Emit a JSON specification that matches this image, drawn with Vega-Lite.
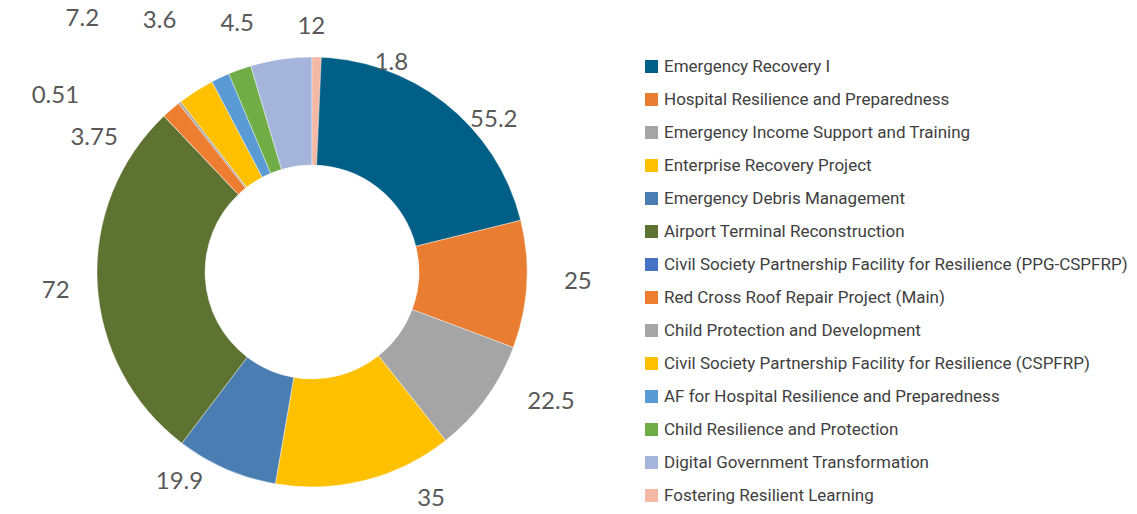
{
  "$schema": "https://vega.github.io/schema/vega-lite/v6.json",
  "width": 624,
  "height": 484,
  "padding": {"left": 0, "top": 30, "right": 513, "bottom": 0},
  "autosize": {"type": "none"},
  "background": "white",
  "config": {"view": {"stroke": null}},
  "data": {
    "values": [
      {"order": 1, "name": "Emergency Recovery I", "value": 55.2},
      {"order": 2, "name": "Hospital Resilience and Preparedness", "value": 25},
      {"order": 3, "name": "Emergency Income Support and Training", "value": 22.5},
      {"order": 4, "name": "Enterprise Recovery Project", "value": 35},
      {"order": 5, "name": "Emergency Debris Management", "value": 19.9},
      {"order": 6, "name": "Airport Terminal Reconstruction", "value": 72},
      {"order": 7, "name": "Civil Society Partnership Facility for Resilience (PPG-CSPFRP)", "value": 0},
      {"order": 8, "name": "Red Cross Roof Repair Project (Main)", "value": 3.75},
      {"order": 9, "name": "Child Protection and Development", "value": 0.51},
      {"order": 10, "name": "Civil Society Partnership Facility for Resilience (CSPFRP)", "value": 7.2},
      {"order": 11, "name": "AF for Hospital Resilience and Preparedness", "value": 3.6},
      {"order": 12, "name": "Child Resilience and Protection", "value": 4.5},
      {"order": 13, "name": "Digital Government Transformation", "value": 12},
      {"order": 14, "name": "Fostering Resilient Learning", "value": 1.8}
    ]
  },
  "transform": [
    {"stack": "value", "groupby": [], "sort": [{"field": "order", "order": "ascending"}], "as": ["v0", "v1"]}
  ],
  "encoding": {
    "theta": {"field": "v0", "type": "quantitative", "scale": {"nice": false, "zero": true}}
  },
  "layer": [
    {
      "mark": {"type": "arc", "outerRadius": 215, "innerRadius": 107, "stroke": "#ffffff", "strokeWidth": 0.4},
      "encoding": {
        "theta2": {"field": "v1"},
        "color": {
          "field": "name",
          "type": "nominal",
          "scale": {
            "domain": [
              "Emergency Recovery I",
              "Hospital Resilience and Preparedness",
              "Emergency Income Support and Training",
              "Enterprise Recovery Project",
              "Emergency Debris Management",
              "Airport Terminal Reconstruction",
              "Civil Society Partnership Facility for Resilience (PPG-CSPFRP)",
              "Red Cross Roof Repair Project (Main)",
              "Child Protection and Development",
              "Civil Society Partnership Facility for Resilience (CSPFRP)",
              "AF for Hospital Resilience and Preparedness",
              "Child Resilience and Protection",
              "Digital Government Transformation",
              "Fostering Resilient Learning"
            ],
            "range": ["#005F86", "#E97E32", "#A5A5A5", "#FFC000", "#4A7EB3", "#5E7232", "#4472C4", "#ED7D31", "#A4A5A4", "#FFC000", "#5B9BD5", "#70AD47", "#A5B4DB", "#F4B9A4"]
          },
          "legend": {
            "orient": "none",
            "legendX": 643,
            "legendY": 28,
            "title": null,
            "symbolType": "square",
            "symbolSize": 169,
            "symbolStrokeWidth": 0,
            "symbolOpacity": 1,
            "labelFont": "Roboto",
            "labelFontSize": 17,
            "labelColor": "#404040",
            "labelOffset": 4,
            "labelLimit": 700,
            "rowPadding": 15
          }
        }
      }
    },
    {"transform": [{"filter": "datum.order == 1"}], "mark": {"type": "text", "radius": 237, "thetaOffset": 0.8744, "font": "Lato", "fontSize": 24, "color": "#595959", "align": "center", "baseline": "middle"}, "encoding": {"text": {"field": "value", "type": "nominal"}}},
    {"transform": [{"filter": "datum.order == 2"}], "mark": {"type": "text", "radius": 266, "thetaOffset": 0.2815, "font": "Lato", "fontSize": 24, "color": "#595959", "align": "center", "baseline": "middle"}, "encoding": {"text": {"field": "value", "type": "nominal"}}},
    {"transform": [{"filter": "datum.order == 3"}], "mark": {"type": "text", "radius": 272, "thetaOffset": 0.1396, "font": "Lato", "fontSize": 24, "color": "#595959", "align": "center", "baseline": "middle"}, "encoding": {"text": {"field": "value", "type": "nominal"}}},
    {"transform": [{"filter": "datum.order == 4"}], "mark": {"type": "text", "radius": 256, "thetaOffset": 0.1868, "font": "Lato", "fontSize": 24, "color": "#595959", "align": "center", "baseline": "middle"}, "encoding": {"text": {"field": "value", "type": "nominal"}}},
    {"transform": [{"filter": "datum.order == 5"}], "mark": {"type": "text", "radius": 248, "thetaOffset": 0.3924, "font": "Lato", "fontSize": 24, "color": "#595959", "align": "center", "baseline": "middle"}, "encoding": {"text": {"field": "value", "type": "nominal"}}},
    {"transform": [{"filter": "datum.order == 6"}], "mark": {"type": "text", "radius": 257, "thetaOffset": 0.8454, "font": "Lato", "fontSize": 24, "color": "#595959", "align": "center", "baseline": "middle"}, "encoding": {"text": {"field": "value", "type": "nominal"}}},
    {"transform": [{"filter": "datum.order == 8"}], "mark": {"type": "text", "radius": 256, "thetaOffset": -0.2588, "font": "Lato", "fontSize": 24, "color": "#595959", "align": "center", "baseline": "middle"}, "encoding": {"text": {"field": "value", "type": "nominal"}}},
    {"transform": [{"filter": "datum.order == 9"}], "mark": {"type": "text", "radius": 311, "thetaOffset": -0.3012, "font": "Lato", "fontSize": 24, "color": "#595959", "align": "center", "baseline": "middle"}, "encoding": {"text": {"field": "value", "type": "nominal"}}},
    {"transform": [{"filter": "datum.order == 10"}], "mark": {"type": "text", "radius": 342, "thetaOffset": -0.0796, "font": "Lato", "fontSize": 24, "color": "#595959", "align": "center", "baseline": "middle"}, "encoding": {"text": {"field": "value", "type": "nominal"}}},
    {"transform": [{"filter": "datum.order == 11"}], "mark": {"type": "text", "radius": 294, "thetaOffset": -0.0614, "font": "Lato", "fontSize": 24, "color": "#595959", "align": "center", "baseline": "middle"}, "encoding": {"text": {"field": "value", "type": "nominal"}}},
    {"transform": [{"filter": "datum.order == 12"}], "mark": {"type": "text", "radius": 259, "thetaOffset": 0.1038, "font": "Lato", "fontSize": 24, "color": "#595959", "align": "center", "baseline": "middle"}, "encoding": {"text": {"field": "value", "type": "nominal"}}},
    {"transform": [{"filter": "datum.order == 13"}], "mark": {"type": "text", "radius": 245, "thetaOffset": 0.2861, "font": "Lato", "fontSize": 24, "color": "#595959", "align": "center", "baseline": "middle"}, "encoding": {"text": {"field": "value", "type": "nominal"}}},
    {"transform": [{"filter": "datum.order == 14"}], "mark": {"type": "text", "radius": 224, "thetaOffset": 0.3623, "font": "Lato", "fontSize": 24, "color": "#595959", "align": "center", "baseline": "middle"}, "encoding": {"text": {"field": "value", "type": "nominal"}}}
  ]
}
